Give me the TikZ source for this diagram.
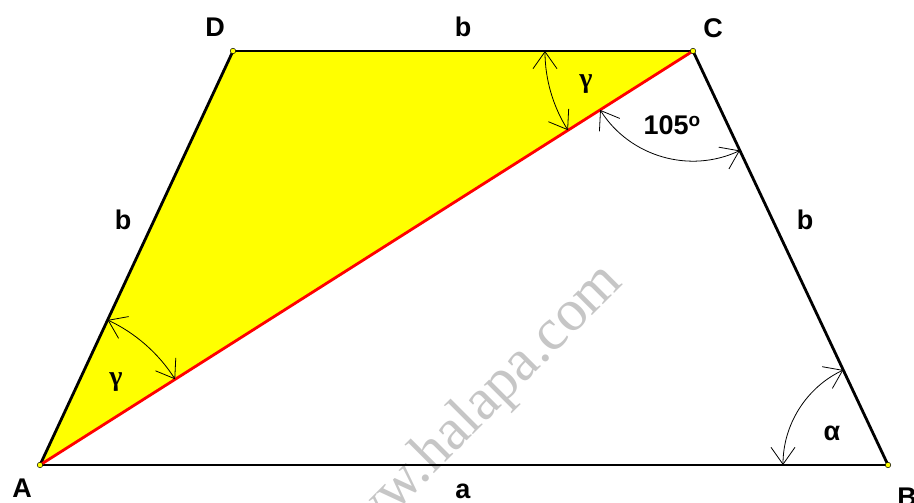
\documentclass[tikz,border=0pt]{standalone}
\usepackage{fontspec}
\setmainfont{Liberation Sans}
\newfontfamily\markfont{Liberation Serif}
\usepackage{xcolor}
\definecolor{trapyellow}{HTML}{FFFF00}
\definecolor{diagred}{HTML}{FF0000}
\usetikzlibrary{arrows.meta, angles}

\begin{document}
\begin{tikzpicture}[x=1pt, y=1pt,
  side/.style={line width=2.8pt, color=black, line cap=round},
  diag/.style={line width=2.8pt, color=diagred, line cap=round},
  vertex/.style={circle, draw=black, fill=trapyellow, line width=0.5pt,
    inner sep=0pt, minimum size=5.5pt},
  ptlabel/.style={inner sep=0pt, font=\fontsize{27}{30}\selectfont\bfseries},
  greek/.style={inner sep=0pt, font=\markfont\fontsize{28}{30}\selectfont\bfseries},
  angarc/.style={draw, line width=0.8pt,
    {Straight Barb[length=17pt, width=24pt]}-{Straight Barb[length=17pt, width=24pt]}}
]
\useasboundingbox (0,0) rectangle (914,503);

\coordinate (A) at (40,38);
\coordinate (B) at (888,38);
\coordinate (C) at (693,452);
\coordinate (D) at (233,452);

% watermark
\node[anchor=base west, rotate=45, inner sep=0pt, text=gray!45,
  font=\markfont\fontsize{59}{60}\selectfont] (mark) at (335,-70) {www.halapa.com};

\fill[trapyellow] (A) -- (C) -- (D) -- cycle;

\draw[side] (A) -- (B);
\draw[side] (B) -- (C);
\draw[side] (C) -- (D);
\draw[side] (D) -- (A);
\draw[diag] (A) -- (C);

% angle arcs
\pic[angarc, angle radius=110pt] {angle=A--C--B};
\pic[angarc, angle radius=148pt] {angle=D--C--A};
\pic[angarc, angle radius=160pt] {angle=C--A--D};
\pic[angarc, angle radius=105pt] {angle=C--B--A};

\foreach \v in {A,B,C,D}
  \node[vertex] (dot\v) at (\v) {};

\node[ptlabel] (labA) at (22,15) {A};
\node[ptlabel] (labB) at (907,6) {B};
\node[ptlabel] (labC) at (713,475) {C};
\node[ptlabel] (labD) at (215,476) {D};

\node[ptlabel] (sideDC) at (463,476) {b};
\node[ptlabel] (sideAD) at (123,283) {b};
\node[ptlabel] (sideBC) at (805,283) {b};
\node[ptlabel] (sideAB) at (463,12) {a};

\node[greek] (gamC) at (586,419) {γ};
\node[greek] (gamA) at (116,121) {γ};
\node[ptlabel] (alpB) at (832,70) {α};
\node[ptlabel] (angC) at (672,378)
  {105\raisebox{8pt}{\fontsize{19}{19}\selectfont o}};
\end{tikzpicture}
\end{document}
